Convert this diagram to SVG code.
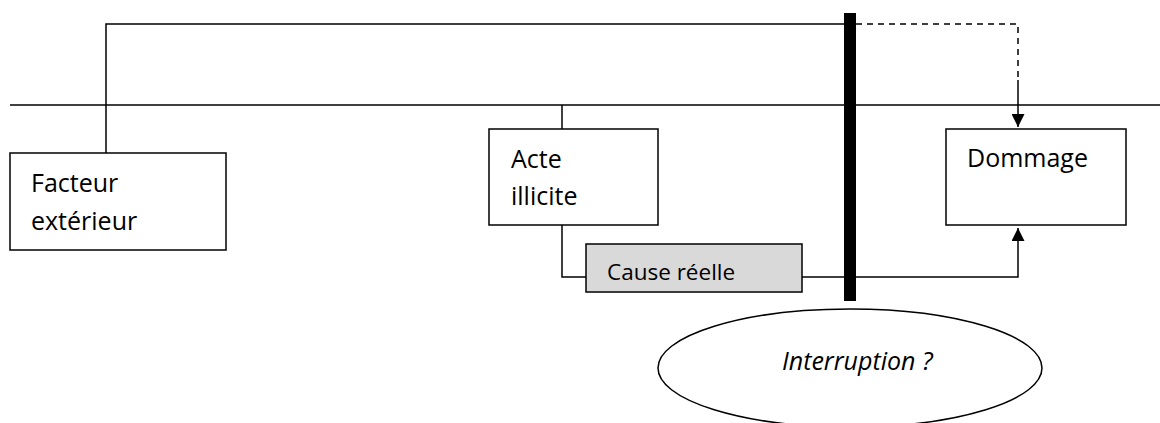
<svg xmlns="http://www.w3.org/2000/svg" width="1160" height="423" viewBox="0 0 1160 423">
  <style>
    .box { fill: #ffffff; stroke: #000000; stroke-width: 1.5; }
    .grey { fill: #d9d9d9; stroke: #000000; stroke-width: 1.5; }
    .line { fill: none; stroke: #000000; stroke-width: 1.5; }
    .dash { fill: none; stroke: #000000; stroke-width: 1.5; stroke-dasharray: 6 5; }
    .lbl { font-family: "Open Sans", Lato, "Liberation Sans", sans-serif; font-size: 25px; fill: #000000; }
    .small { font-size: 22.5px; }
    .ital { font-style: italic; }
  </style>
  <defs>
    <marker id="arrow" viewBox="0 0 10 10" refX="10" refY="5" markerWidth="13" markerHeight="13" markerUnits="userSpaceOnUse" orient="auto">
      <path d="M0,0 L10,5 L0,10 Z" fill="#000000"/>
    </marker>
  </defs>

  <g id="connectors">
    <!-- time axis -->
    <line class="line" x1="10" y1="105" x2="1160" y2="105"/>
    <!-- external factor route over the top -->
    <polyline class="line" points="106,153 106,24 850,24"/>
    <polyline class="dash" points="856,24 1018,24 1018,80"/>
    <line class="line" x1="1018" y1="80" x2="1018" y2="127" marker-end="url(#arrow)"/>
    <!-- unlawful act link -->
    <line class="line" x1="562" y1="105" x2="562" y2="129"/>
    <polyline class="line" points="562,225 562,277 586,277"/>
    <!-- actual cause to damage -->
    <polyline class="line" points="802,277 1018,277 1018,228" marker-end="url(#arrow)"/>
    <!-- interruption bar -->
    <rect x="844" y="13" width="12" height="288" fill="#000000"/>
  </g>

  <g id="facteur">
    <rect class="box" x="10" y="153" width="216" height="97"/>
    <text class="lbl" x="31" y="192">Facteur</text>
    <text class="lbl" x="31" y="230">extérieur</text>
  </g>

  <g id="acte">
    <rect class="box" x="489" y="129" width="169" height="96"/>
    <text class="lbl" x="511" y="168">Acte</text>
    <text class="lbl" x="511" y="205">illicite</text>
  </g>

  <g id="cause">
    <rect class="grey" x="586" y="244" width="216" height="48"/>
    <text class="lbl small" x="607" y="280">Cause réelle</text>
  </g>

  <g id="dommage">
    <rect class="box" x="946" y="129" width="180" height="96"/>
    <text class="lbl" x="967" y="167">Dommage</text>
  </g>

  <g id="interruption">
    <ellipse class="box" cx="850" cy="368" rx="192" ry="59"/>
    <text class="lbl ital" x="782" y="370">Interruption ?</text>
  </g>
</svg>
